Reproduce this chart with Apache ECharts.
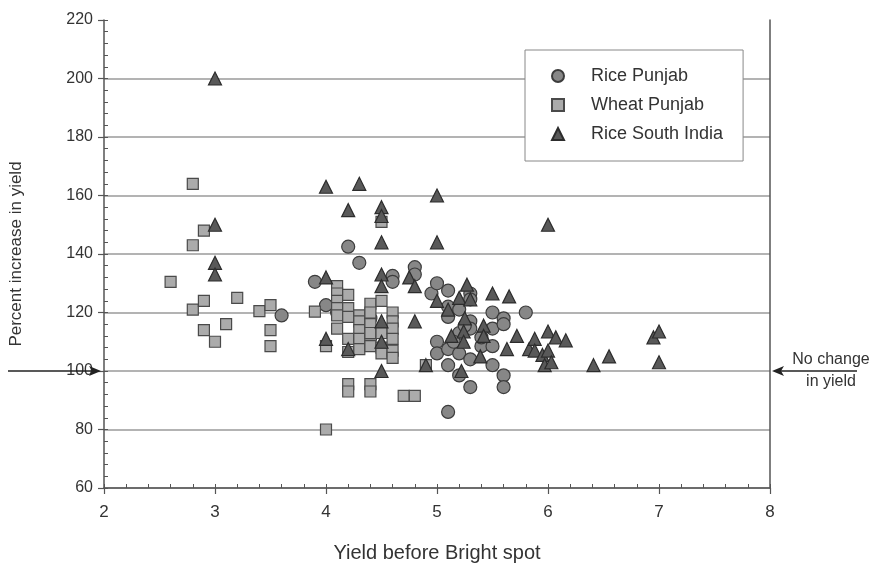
<!DOCTYPE html>
<html>
<head>
<meta charset="utf-8">
<script src="https://cdn.jsdelivr.net/npm/echarts@6/dist/echarts.min.js"></script>
<style>
  html, body { margin: 0; padding: 0; background: #fff; }
  #chart { width: 874px; height: 568px; }
</style>
</head>
<body>
<div id="chart"></div>
<script>
// Tick labels for both axes
const xTickLabels = ['2', '3', '4', '5', '6', '7', '8'];
const yTickLabels = ['60', '80', '100', '120', '140', '160', '180', '200', '220'];

// [yield before Bright spot, percent increase in yield]
const ricePunjab = [
  [3.6, 119], [3.9, 130.5], [4.0, 122.5], [4.2, 142.5], [4.3, 137], [4.1, 120], [4.4, 111.5], [4.4, 118],
  [4.6, 132.5], [4.6, 130.5], [4.8, 135.5], [4.8, 133], [4.95, 126.5], [5.0, 130],
  [5.1, 127.5], [5.1, 122], [5.1, 118.5], [5.2, 121], [5.3, 126.5], [5.3, 124.5], [5.3, 117], [5.3, 114.5],
  [5.5, 120], [5.5, 114.5], [5.6, 118], [5.6, 116], [5.8, 120],
  [5.0, 110], [5.0, 106], [5.1, 107.5], [5.2, 106], [5.3, 104], [5.4, 108.5], [5.5, 108.5], [5.4, 111.5],
  [5.1, 102], [5.2, 98.5], [5.3, 94.5], [5.5, 102], [5.6, 98.5], [5.6, 94.5], [5.1, 86],
  [5.2, 113], [5.15, 110], [5.25, 115.5]
];

const wheatPunjab = [
  [2.6, 130.5], [2.8, 164], [2.8, 143], [2.9, 148], [2.8, 121], [2.9, 124], [2.9, 114], [3.0, 110],
  [3.1, 116], [3.2, 125], [3.4, 120.5], [3.5, 122.5], [3.5, 114], [3.5, 108.5], [3.9, 120.3],
  [4.0, 108.5], [4.0, 80],
  [4.1, 129], [4.1, 126.5], [4.1, 124], [4.1, 121.5], [4.1, 119], [4.1, 114.5],
  [4.2, 126], [4.2, 121.5], [4.2, 118.5], [4.2, 111], [4.2, 106.5], [4.2, 95.5], [4.2, 93],
  [4.3, 119], [4.3, 117], [4.3, 114], [4.3, 111], [4.3, 107.5],
  [4.4, 123], [4.4, 120], [4.4, 116], [4.4, 113], [4.4, 108.5], [4.4, 95.5], [4.4, 93],
  [4.5, 151], [4.5, 124], [4.5, 113], [4.5, 108], [4.5, 106],
  [4.6, 120], [4.6, 117], [4.6, 114.5], [4.6, 111], [4.6, 107], [4.6, 104.5],
  [4.7, 91.5], [4.8, 91.5], [4.9, 102]
];

const riceSouthIndia = [
  [3.0, 200], [3.0, 150], [3.0, 137], [3.0, 133], [4.0, 163], [4.3, 164], [4.2, 155],
  [4.5, 156], [4.5, 153], [4.5, 144], [5.0, 160], [5.0, 144], [6.0, 150],
  [4.0, 132], [4.5, 133], [4.5, 129], [4.75, 132], [4.8, 129], [4.0, 111], [4.2, 107.5],
  [4.5, 117], [4.5, 110], [4.5, 100], [4.8, 117], [4.9, 102],
  [5.0, 124], [5.1, 121], [5.2, 125], [5.3, 124.5], [5.27, 129.5], [5.5, 126.5], [5.65, 125.5],
  [5.25, 118], [5.13, 112], [5.24, 113.5], [5.42, 115.5], [5.24, 110], [5.42, 112], [5.39, 105], [5.22, 100],
  [5.72, 112], [5.63, 107.5], [5.83, 107.5], [5.88, 111], [5.88, 107], [5.95, 105.5], [6.0, 107],
  [6.0, 113.5], [6.07, 111.5], [6.16, 110.5], [5.97, 102], [6.03, 103], [6.41, 102], [6.55, 105],
  [6.95, 111.5], [7.0, 113.5], [7.0, 103]
];

const FONT = '"Liberation Sans", Arial, Helvetica, sans-serif';
const TEXT = '#333';
const AXIS = '#555';

const chart = echarts.init(document.getElementById('chart'), null, { renderer: 'canvas' });

// No gridline on the topmost tick (220)
const gridColors = yTickLabels.map((_, i) => (i === yTickLabels.length - 1 ? 'rgba(0,0,0,0)' : '#9a9a9a'));

chart.setOption({
  animation: false,
  backgroundColor: '#fff',
  grid: { left: 100, right: 104, top: 20, bottom: 78 },
  legend: {
    orient: 'vertical',
    left: 525,
    top: 50,
    padding: [17, 20, 18, 26],
    itemWidth: 12,
    itemHeight: 12,
    itemGap: 11,
    backgroundColor: '#fff',
    borderColor: '#888',
    borderWidth: 1,
    borderRadius: 0,
    textStyle: { fontFamily: FONT, fontSize: 18, color: TEXT, padding: [0, 0, 0, 22] },
    data: ['Rice Punjab', 'Wheat Punjab', 'Rice South India']
  },
  xAxis: [
    {
      type: 'value', min: 2, max: 8, interval: 1,
      name: 'Yield before Bright spot',
      nameLocation: 'middle', nameGap: 55,
      nameTextStyle: { fontFamily: FONT, fontSize: 20, color: TEXT },
      axisLine: { show: true, onZero: false, lineStyle: { color: AXIS, width: 1.5 } },
      axisTick: { show: true, inside: false, length: 6, lineStyle: { color: AXIS, width: 1.2 } },
      axisLabel: {
        fontFamily: FONT, fontSize: 17, color: TEXT, margin: 16,
        formatter: v => xTickLabels[Math.round(v - 2)]
      },
      splitLine: { show: false }
    },
    {
      type: 'value', min: 2, max: 8, interval: 0.2, position: 'bottom',
      axisLine: { show: false },
      axisTick: { show: true, inside: true, length: 4, lineStyle: { color: AXIS, width: 1 } },
      axisLabel: { show: false },
      splitLine: { show: false }
    }
  ],
  yAxis: [
    {
      type: 'value', min: 60, max: 220, interval: 20,
      name: 'Percent increase in yield',
      nameLocation: 'middle', nameGap: 79, nameRotate: 90,
      nameTextStyle: { fontFamily: FONT, fontSize: 17, color: TEXT },
      axisLine: { show: true, onZero: false, lineStyle: { color: AXIS, width: 1.5 } },
      axisTick: { show: true, inside: false, length: 6, lineStyle: { color: AXIS, width: 1.2 } },
      axisLabel: {
        fontFamily: FONT, fontSize: 16, color: TEXT, margin: 11,
        formatter: v => yTickLabels[Math.round((v - 60) / 20)]
      },
      splitLine: { show: true, lineStyle: { color: gridColors, width: 1.5 } }
    },
    {
      type: 'value', min: 60, max: 220, interval: 4, position: 'left', offset: 0,
      axisLine: { show: false },
      axisTick: { show: true, inside: true, length: 4, lineStyle: { color: AXIS, width: 1 } },
      axisLabel: { show: false },
      splitLine: { show: false }
    },
    {
      type: 'value', min: 60, max: 220, position: 'right', offset: 0,
      axisLine: { show: true, onZero: false, lineStyle: { color: AXIS, width: 1.5 } },
      axisTick: { show: false },
      axisLabel: { show: false },
      splitLine: { show: false }
    }
  ],
  series: [
    {
      name: 'Rice Punjab', type: 'scatter', data: ricePunjab,
      symbol: 'circle', symbolSize: 13,
      itemStyle: { color: '#878787', borderColor: '#3c3c3c', borderWidth: 1.2, opacity: 1 }
    },
    {
      name: 'Wheat Punjab', type: 'scatter', data: wheatPunjab,
      symbol: 'rect', symbolSize: 11,
      itemStyle: { color: '#ababab', borderColor: '#4a4a4a', borderWidth: 1.2, opacity: 1 }
    },
    {
      name: 'Rice South India', type: 'scatter', data: riceSouthIndia,
      symbol: 'triangle', symbolSize: 13,
      itemStyle: { color: '#595959', borderColor: '#2c2c2c', borderWidth: 1.2, opacity: 1 }
    }
  ]
});

// "No change in yield" arrows at the 100 % line
const yLine = chart.convertToPixel({ yAxisIndex: 0 }, 100);
const xLeft = chart.convertToPixel({ xAxisIndex: 0 }, 2);
const xRight = chart.convertToPixel({ xAxisIndex: 0 }, 8);
const arrowStyle = { stroke: '#222', lineWidth: 1.6 };
const tipL = xLeft - 3;
const tipR = xRight + 2;

chart.setOption({
  graphic: [
    { type: 'line', z: 100, shape: { x1: 8, y1: yLine, x2: tipL - 8, y2: yLine }, style: arrowStyle },
    { type: 'polygon', z: 100, shape: { points: [[tipL - 12, yLine - 5], [tipL, yLine], [tipL - 12, yLine + 5], [tipL - 9, yLine]] }, style: { fill: '#222' } },
    { type: 'line', z: 100, shape: { x1: xRight + 87, y1: yLine, x2: tipR + 8, y2: yLine }, style: arrowStyle },
    { type: 'polygon', z: 100, shape: { points: [[tipR + 12, yLine - 5], [tipR, yLine], [tipR + 12, yLine + 5], [tipR + 9, yLine]] }, style: { fill: '#222' } },
    { type: 'text', z: 100, x: xRight + 61, y: yLine - 11, style: { text: 'No change', fontFamily: FONT, fontSize: 16, fill: TEXT, align: 'center', verticalAlign: 'middle' } },
    { type: 'text', z: 100, x: xRight + 61, y: yLine + 11, style: { text: 'in yield', fontFamily: FONT, fontSize: 16, fill: TEXT, align: 'center', verticalAlign: 'middle' } }
  ]
});
</script>
</body>
</html>
